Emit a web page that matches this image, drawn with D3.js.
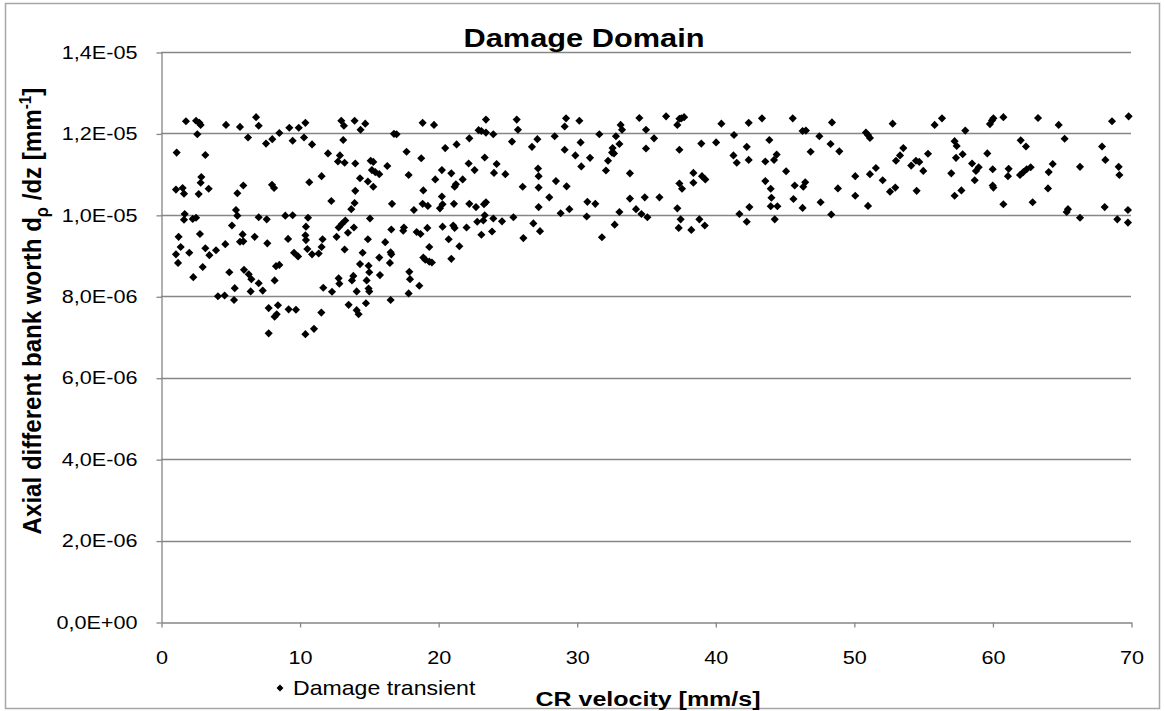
<!DOCTYPE html>
<html><head><meta charset="utf-8">
<script src="https://cdn.jsdelivr.net/npm/d3@7"></script>
<style>body{margin:0;background:#fff}svg{display:block}</style>
</head><body><svg id="c" width="1165" height="711"></svg>
<script>
// CR velocity [mm/s]
const velocity = [
 1.80,2.53,2.77,2.86,2.62,4.69,5.70,6.86,7.05,6.28,7.58,8.03,8.54,9.26,9.94,10.42,9.50,10.32,10.90,1.13,3.20,2.91,2.86,1.08,1.56,1.66,2.72,3.44,5.51,5.94,8.01,8.16,10.70,
 1.71,1.66,2.29,2.53,5.41,5.51,5.12,7.05,7.63,8.97,9.50,10.61,10.46,1.27,2.81,1.42,2.04,1.08,1.23,3.20,3.49,3.97,4.64,5.89,5.70,5.94,6.76,7.67,9.17,10.42,10.46,9.60,9.89,10.56,10.90,11.38,
 3.01,2.33,4.93,5.99,6.33,6.52,7.05,6.47,5.32,7.34,8.20,8.30,8.54,4.11,4.59,5.27,7.77,8.44,8.20,8.35,9.21,9.74,7.77,10.42,11.04,
 13.01,13.20,13.97,14.74,14.40,13.15,16.81,17.00,18.88,19.70,22.92,
 12.05,12.91,12.77,13.25,14.02,15.13,15.32,16.33,17.72,18.78,20.51,21.33,22.25,22.20,22.63,
 11.59,14.36,15.22,15.46,15.75,14.93,15.32,17.87,20.27,20.95,19.79,21.77,21.19,21.28,
 14.02,18.93,12.29,13.97,13.73,16.67,18.88,19.26,20.27,20.32,21.14,20.13,22.25,22.73,18.25,
 15.08,13.30,13.06,12.82,13.92,12.67,13.49,11.66,11.59,14.93,13.25,14.55,16.18,16.57,16.62,15.75,16.52,17.53,17.48,16.62,18.45,18.73,19.22,20.32,21.09,21.19,22.05,22.82,20.76,21.53,19.36,18.93,19.36,19.55,20.95,19.07,
 14.36,14.98,15.03,13.88,13.78,12.82,12.87,14.84,14.98,15.03,15.80,17.92,17.97,18.64,11.71,12.34,14.12,17.87,
 11.57,13.54,14.12,14.26,14.79,16.57,
 23.45,23.12,23.45,23.98,25.67,25.76,25.33,27.16,26.77,28.41,29.23,29.13,30.19,30.28,31.63,32.83,33.17,33.27,33.08,32.59,32.55,32.69,34.52,
 23.36,24.22,24.03,24.85,27.21,27.25,29.13,29.90,30.96,30.33,32.26,32.11,33.84,
 26.10,27.25,28.50,29.27,28.02,
 23.45,23.31,27.25,29.47,28.84,30.77,31.34,33.84,34.28,23.36,23.26,23.98,24.61,25.43,26.87,30.72,33.08,
 23.12,23.89,27.35,26.15,32.74,31.82,
 36.45,37.26,37.41,37.75,37.55,35.00,35.58,35.00,37.41,38.99,40.06,40.44,41.35,42.41,43.37,43.90,42.27,41.31,41.55,42.41,43.61,44.24,44.43,45.59,
 38.42,39.04,39.28,37.41,37.60,38.42,43.61,44.00,45.11,45.73,
 34.91,35.97,44.05,45.64,37.26,35.10,42.46,41.74,42.27,44.00,44.48,44.29,34.67,
 37.50,37.36,38.27,38.85,39.24,
 46.30,46.54,48.42,47.51,48.32,48.95,46.88,50.87,51.02,51.16,52.80,53.57,53.33,53.04,55.35,55.83,56.36,54.14,54.48,54.72,55.01,57.27,57.42,57.37,57.03,
 46.49,46.35,50.10,51.16,51.59,52.08,48.85,50.10,52.61,52.99,54.53,57.27,
 46.30,47.60,48.37,51.02,
 58.04,59.82,59.97,60.07,60.79,63.29,64.78,68.63,69.83,62.04,62.42,65.21,67.91,
 57.85,59.63,58.53,59.01,58.81,60.02,61.17,61.12,61.99,62.23,62.47,62.76,64.35,64.06,66.32,68.15,69.11,69.16,
 57.76,58.72,60.02,60.07,64.01,60.79,62.90,65.45,65.36,66.32,68.10,69.01,69.78,69.78
];
// Axial different bank worth [mm^-1]
const bankWorth = [
 12.30e-6,12.31e-6,12.26e-6,12.21e-6,11.98e-6,12.21e-6,12.16e-6,12.40e-6,12.19e-6,11.90e-6,11.75e-6,11.86e-6,12.01e-6,12.14e-6,12.14e-6,12.26e-6,11.82e-6,11.90e-6,11.73e-6,11.53e-6,11.47e-6,10.93e-6,10.79e-6,10.62e-6,10.66e-6,10.52e-6,10.51e-6,10.64e-6,10.53e-6,10.72e-6,10.74e-6,10.66e-6,10.80e-6,
 10.02e-6,9.88e-6,9.90e-6,9.93e-6,10.12e-6,9.98e-6,9.74e-6,9.94e-6,9.89e-6,9.98e-6,9.99e-6,9.93e-6,9.71e-6,9.46e-6,9.53e-6,9.21e-6,9.07e-6,9.03e-6,8.82e-6,9.18e-6,9.01e-6,9.13e-6,9.28e-6,9.52e-6,9.34e-6,9.35e-6,9.46e-6,9.30e-6,9.41e-6,9.50e-6,9.38e-6,9.07e-6,8.98e-6,9.16e-6,9.03e-6,9.05e-6,
 8.72e-6,8.47e-6,8.59e-6,8.65e-6,8.54e-6,8.42e-6,8.32e-6,8.12e-6,8.20e-6,8.14e-6,8.39e-6,8.74e-6,8.77e-6,8.00e-6,8.02e-6,7.91e-6,7.71e-6,7.78e-6,7.50e-6,7.56e-6,7.68e-6,7.67e-6,7.09e-6,7.07e-6,7.20e-6,
 12.31e-6,12.19e-6,12.31e-6,12.24e-6,12.09e-6,11.84e-6,11.99e-6,11.98e-6,12.26e-6,12.21e-6,12.08e-6,
 11.51e-6,11.46e-6,11.31e-6,11.28e-6,11.26e-6,11.33e-6,11.30e-6,11.20e-6,11.55e-6,11.39e-6,11.64e-6,11.73e-6,11.88e-6,11.26e-6,11.10e-6,
 10.95e-6,10.90e-6,11.10e-6,11.05e-6,11.00e-6,10.82e-6,10.69e-6,10.98e-6,11.10e-6,11.02e-6,10.87e-6,10.87e-6,10.69e-6,10.75e-6,
 10.59e-6,10.60e-6,10.34e-6,10.29e-6,10.14e-6,10.27e-6,10.27e-6,10.22e-6,10.45e-6,10.26e-6,10.27e-6,10.16e-6,10.27e-6,10.19e-6,10.12e-6,
 9.91e-6,9.86e-6,9.78e-6,9.69e-6,9.69e-6,9.46e-6,9.56e-6,9.40e-6,9.21e-6,9.40e-6,9.15e-6,9.07e-6,9.33e-6,9.08e-6,9.03e-6,8.95e-6,8.82e-6,9.69e-6,9.61e-6,9.64e-6,9.58e-6,9.53e-6,9.68e-6,9.71e-6,9.74e-6,9.68e-6,9.69e-6,9.83e-6,9.40e-6,9.23e-6,9.21e-6,8.95e-6,8.85e-6,8.83e-6,8.92e-6,8.90e-6,
 8.79e-6,8.75e-6,8.59e-6,8.50e-6,8.39e-6,8.44e-6,8.31e-6,8.39e-6,8.19e-6,8.12e-6,8.52e-6,8.60e-6,8.42e-6,8.26e-6,8.21e-6,8.11e-6,8.12e-6,8.07e-6,
 7.60e-6,7.79e-6,7.66e-6,7.56e-6,7.83e-6,7.91e-6,
 12.34e-6,12.06e-6,12.02e-6,11.98e-6,12.34e-6,12.09e-6,11.80e-6,11.86e-6,11.67e-6,11.93e-6,12.37e-6,12.17e-6,12.31e-6,11.78e-6,11.98e-6,11.93e-6,12.21e-6,12.09e-6,11.74e-6,11.64e-6,11.53e-6,11.51e-6,12.38e-6,
 11.41e-6,11.25e-6,11.03e-6,11.00e-6,11.14e-6,10.95e-6,11.60e-6,11.46e-6,11.40e-6,11.19e-6,11.33e-6,11.09e-6,11.02e-6,
 10.69e-6,10.67e-6,10.83e-6,10.70e-6,10.43e-6,
 10.31e-6,10.26e-6,10.19e-6,10.14e-6,10.04e-6,10.32e-6,10.27e-6,10.40e-6,10.14e-6,9.99e-6,9.86e-6,9.91e-6,9.84e-6,9.94e-6,9.79e-6,9.96e-6,10.07e-6,
 9.51e-6,9.59e-6,9.60e-6,9.43e-6,9.76e-6,9.45e-6,
 12.42e-6,12.21e-6,12.36e-6,12.40e-6,12.37e-6,12.09e-6,11.88e-6,11.63e-6,11.60e-6,11.75e-6,11.78e-6,12.24e-6,11.96e-6,12.26e-6,12.37e-6,11.84e-6,11.67e-6,11.46e-6,11.28e-6,11.35e-6,11.31e-6,11.35e-6,11.48e-6,12.37e-6,
 11.03e-6,10.95e-6,10.87e-6,10.77e-6,10.64e-6,10.79e-6,10.83e-6,10.64e-6,11.07e-6,10.72e-6,
 10.43e-6,10.43e-6,10.42e-6,10.39e-6,10.16e-6,9.94e-6,10.19e-6,10.02e-6,9.83e-6,10.21e-6,10.21e-6,9.89e-6,10.02e-6,
 9.89e-6,9.68e-6,9.63e-6,9.89e-6,9.74e-6,
 12.06e-6,12.07e-6,12.27e-6,11.93e-6,11.74e-6,11.56e-6,11.55e-6,12.02e-6,11.96e-6,11.89e-6,12.24e-6,11.64e-6,11.46e-6,11.33e-6,11.50e-6,12.21e-6,12.37e-6,11.21e-6,11.33e-6,11.30e-6,11.08e-6,11.81e-6,11.69e-6,11.40e-6,11.02e-6,
 10.80e-6,10.69e-6,10.95e-6,11.00e-6,11.15e-6,10.85e-6,10.65e-6,10.47e-6,10.57e-6,10.67e-6,10.59e-6,10.47e-6,
 10.17e-6,10.31e-6,10.01e-6,10.22e-6,
 12.07e-6,12.23e-6,12.32e-6,12.37e-6,12.40e-6,12.38e-6,12.21e-6,12.30e-6,12.42e-6,11.83e-6,11.68e-6,11.87e-6,11.68e-6,
 11.49e-6,11.51e-6,11.26e-6,11.17e-6,11.08e-6,11.12e-6,11.13e-6,10.95e-6,10.98e-6,11.05e-6,11.12e-6,11.17e-6,11.25e-6,11.05e-6,11.18e-6,11.35e-6,11.18e-6,10.98e-6,
 10.60e-6,10.85e-6,10.72e-6,10.67e-6,10.65e-6,10.26e-6,10.31e-6,10.14e-6,10.07e-6,9.93e-6,10.19e-6,9.89e-6,10.12e-6,9.81e-6
];
const xTickValues = [0,10,20,30,40,50,60,70];
const yTickValues = [0,2e-6,4e-6,6e-6,8e-6,10e-6,12e-6,14e-6];
const yTickLabels = ["0,0E+00","2,0E-06","4,0E-06","6,0E-06","8,0E-06","1,0E-05","1,2E-05","1,4E-05"];
const chartTitle = "Damage Domain";
const seriesName = "Damage transient";
const xTitle = "CR velocity [mm/s]";

const FONT = "'Liberation Sans', Arial, sans-serif";
const GRID = "#868686";
const svg = d3.select("#c");
const points = velocity.map((v, i) => ({x: v, y: bankWorth[i]}));

// outer frame
svg.append("rect").attr("x", 5.5).attr("y", 3.5).attr("width", 1154).attr("height", 705)
  .attr("fill", "#fff").attr("stroke", "#a6a6a6").attr("stroke-width", 1.5);

const x = d3.scaleLinear().domain([0, 70]).range([161, 1131]);
const y = d3.scaleLinear().domain([0, 14e-6]).range([622, 52]);

// gridlines
svg.append("g").selectAll("line").data(yTickValues.slice(1)).join("line")
  .attr("x1", x(0)).attr("x2", x(70))
  .attr("y1", d => Math.round(y(d)) + 0.5).attr("y2", d => Math.round(y(d)) + 0.5)
  .attr("stroke", GRID).attr("stroke-width", 1.3);

function stretch(sel, k) {
  sel.each(function() {
    const w = this.getComputedTextLength();
    d3.select(this).attr("textLength", w * k).attr("lengthAdjust", "spacingAndGlyphs");
  });
}

// y axis
const gy = svg.append("g").attr("transform", `translate(${x(0) + 0.5},0.5)`)
  .call(d3.axisLeft(y).tickValues(yTickValues).tickFormat((d, i) => yTickLabels[i])
    .tickSize(5).tickSizeOuter(0).tickPadding(19));
gy.select(".domain").attr("stroke", GRID).attr("stroke-width", 1.3);
gy.selectAll(".tick line").attr("stroke", GRID).attr("stroke-width", 1.3);
gy.selectAll(".tick text").attr("font-family", FONT).attr("font-size", 18).attr("fill", "#000")
  .call(stretch, 1.2);

// x axis
const gx = svg.append("g").attr("transform", `translate(0.5,${y(0) + 0.5})`)
  .call(d3.axisBottom(x).tickValues(xTickValues).tickFormat(d3.format("d"))
    .tickSize(5).tickSizeOuter(0));
gx.select(".domain").attr("stroke", GRID).attr("stroke-width", 1.3);
gx.selectAll(".tick line").attr("stroke", GRID).attr("stroke-width", 1.3);
gx.selectAll(".tick text").attr("font-family", FONT).attr("font-size", 18).attr("fill", "#000")
  .attr("y", 41).attr("dy", 0).call(stretch, 1.2);

// points
const diamond = d3.symbol(d3.symbolSquare, 33);
svg.append("g").selectAll("path").data(points).join("path")
  .attr("d", diamond)
  .attr("transform", d => `translate(${x(d.x)},${y(d.y)}) rotate(45)`)
  .attr("fill", "#000");

// title
svg.append("text").attr("x", 584).attr("y", 47).attr("text-anchor", "middle")
  .attr("font-family", FONT).attr("font-weight", "bold").attr("font-size", 25)
  .text(chartTitle).call(stretch, 1.23);

// x title
svg.append("text").attr("x", 648).attr("y", 706).attr("text-anchor", "middle")
  .attr("font-family", FONT).attr("font-weight", "bold").attr("font-size", 20)
  .text(xTitle).call(stretch, 1.25);

// legend
svg.append("path").attr("d", d3.symbol(d3.symbolSquare, 24))
  .attr("transform", "translate(280,688) rotate(45)").attr("fill", "#000");
svg.append("text").attr("x", 293).attr("y", 695)
  .attr("font-family", FONT).attr("font-size", 21)
  .text(seriesName).call(stretch, 1.1);

// y title
const yt = svg.append("text").attr("text-anchor", "middle")
  .attr("font-family", FONT).attr("font-weight", "bold").attr("font-size", 22);
yt.append("tspan").text("Axial different bank worth d");
yt.append("tspan").attr("font-size", 15).attr("dy", 6).text("ρ");
yt.append("tspan").attr("dy", -6).text(" /dz [mm");
yt.append("tspan").attr("font-size", 14).attr("dy", -8).text("-1");
yt.append("tspan").attr("dy", 8).text("]");
const natural = yt.node().getComputedTextLength();
yt.attr("transform", `translate(41,311) scale(1.2,${447 / natural}) rotate(-90)`);
</script></body></html>
